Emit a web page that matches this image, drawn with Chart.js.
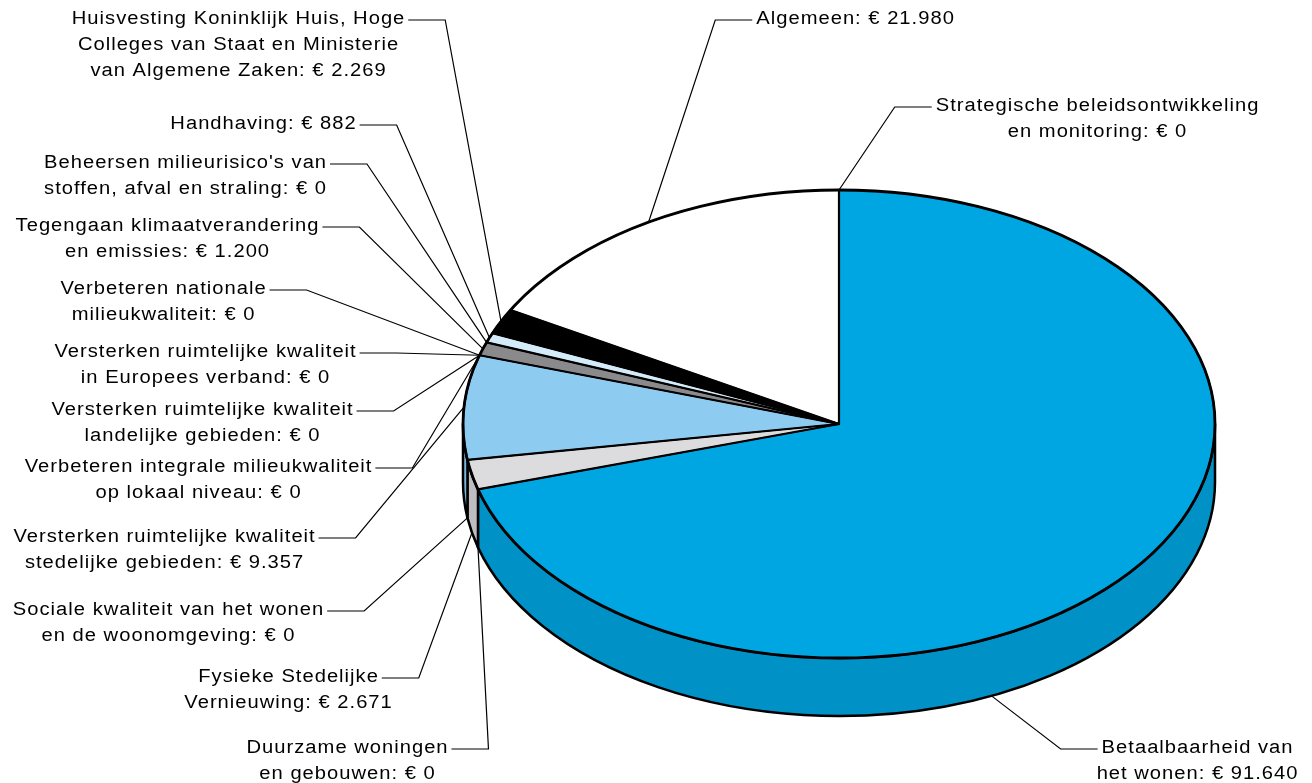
<!DOCTYPE html>
<html>
<head>
<meta charset="utf-8">
<script src="https://cdn.jsdelivr.net/npm/chart.js@4.4.1/dist/chart.umd.min.js"></script>
<style>
  html, body { margin: 0; padding: 0; background: #ffffff; }
  #wrap { width: 1312px; height: 783px; position: relative; }
</style>
</head>
<body>
<div id="wrap"><canvas id="c"></canvas></div>
<script>
// ---- data ----
const categories = [
  'Betaalbaarheid van\nhet wonen',
  'Duurzame woningen\nen gebouwen',
  'Fysieke Stedelijke\nVernieuwing',
  'Sociale kwaliteit van het wonen\nen de woonomgeving',
  'Versterken ruimtelijke kwaliteit\nstedelijke gebieden',
  'Verbeteren integrale milieukwaliteit\nop lokaal niveau',
  'Versterken ruimtelijke kwaliteit\nlandelijke gebieden',
  'Versterken ruimtelijke kwaliteit\nin Europees verband',
  'Verbeteren nationale\nmilieukwaliteit',
  'Tegengaan klimaatverandering\nen emissies',
  "Beheersen milieurisico's van\nstoffen, afval en straling",
  'Handhaving',
  'Huisvesting Koninklijk Huis, Hoge\nColleges van Staat en Ministerie\nvan Algemene Zaken',
  'Algemeen',
  'Strategische beleidsontwikkeling\nen monitoring'
];
const values = [91640, 0, 2671, 0, 9357, 0, 0, 0, 0, 1200, 0, 882, 2269, 21980, 0];

// ---- styles ----
const topColors = ['#00A6E2', '#FFFFFF', '#DCDCDE', '#FFFFFF', '#8ECBF0', '#FFFFFF', '#FFFFFF', '#FFFFFF',
                   '#FFFFFF', '#8A8A8C', '#FFFFFF', '#D4ECFA', '#000000', '#FFFFFF', '#FFFFFF'];
const sideColors = ['#0092C7', '#E0E0E0', '#BEBEC0', '#E0E0E0', '#7DB5D8', '#E0E0E0', '#E0E0E0', '#E0E0E0',
                    '#E0E0E0', '#747476', '#E0E0E0', '#B8D4E4', '#000000', '#E0E0E0', '#E0E0E0'];

// ---- label layout (block centre x, first line y, side of leader, anchor fraction) ----
const labelLayout = [
  { cx: 1197, y: 748, side: 'R', frac: 0.615 },
  { cx: 347, y: 748, side: 'L' },
  { cx: 288, y: 677, side: 'L' },
  { cx: 168, y: 610, side: 'L' },
  { cx: 164, y: 537, side: 'L' },
  { cx: 198, y: 467, side: 'L' },
  { cx: 202, y: 410, side: 'L' },
  { cx: 205, y: 352, side: 'L' },
  { cx: 163, y: 289, side: 'L' },
  { cx: 167, y: 226, side: 'L' },
  { cx: 185, y: 163, side: 'L' },
  { cx: 263, y: 124, side: 'L' },
  { cx: 238, y: 19, side: 'L' },
  { cx: 855, y: 19, side: 'R' },
  { cx: 1097, y: 106, side: 'R' }
];

const TILT = 0.6223;
const DEPTH = 58;
const LINE_H = 26;
const FONT = '18px "Liberation Sans", Arial, sans-serif';
const TEXT_STRETCH = 1.12;

function fmt(v) {
  return String(v).replace(/\B(?=(\d{3})+(?!\d))/g, '.');
}

function geom(chart) {
  const arcs = chart.getDatasetMeta(0).data;
  const a0 = arcs[0];
  const rx = a0.outerRadius;
  return { arcs, cx: a0.x, cy: a0.y, rx, ry: rx * TILT };
}

const pie3d = {
  id: 'pie3d',
  beforeDatasetsDraw(chart) {
    const ctx = chart.ctx;
    const { arcs, cx, cy, rx, ry } = geom(chart);
    ctx.save();
    ctx.lineWidth = 2.5;
    ctx.strokeStyle = '#000';
    ctx.lineJoin = 'round';
    arcs.forEach((arc, i) => {
      const s = arc.startAngle, e = arc.endAngle;
      if (e - s <= 0) return;
      for (let k = -1; k <= 1; k++) {
        const lo = Math.max(s, 2 * Math.PI * k);
        const hi = Math.min(e, 2 * Math.PI * k + Math.PI);
        if (hi > lo) {
          ctx.beginPath();
          ctx.ellipse(cx, cy, rx, ry, 0, lo, hi);
          ctx.ellipse(cx, cy + DEPTH, rx, ry, 0, hi, lo, true);
          ctx.closePath();
          ctx.fillStyle = sideColors[i];
          ctx.fill();
          ctx.stroke();
        }
      }
    });
    ctx.restore();
    ctx.save();
    ctx.translate(cx, cy);
    ctx.scale(1, TILT);
    ctx.translate(-cx, -cy);
  },
  afterDatasetsDraw(chart) {
    const ctx = chart.ctx;
    ctx.restore();
    const { arcs, cx, cy, rx, ry } = geom(chart);
    ctx.save();
    ctx.strokeStyle = '#000';
    ctx.lineWidth = 2.2;
    ctx.lineCap = 'round';
    arcs.forEach((arc) => {
      if (arc.endAngle - arc.startAngle <= 0) return;
      ctx.beginPath();
      ctx.moveTo(cx, cy);
      ctx.lineTo(cx + rx * Math.cos(arc.startAngle), cy + ry * Math.sin(arc.startAngle));
      ctx.stroke();
    });
    ctx.lineWidth = 2.8;
    ctx.beginPath();
    ctx.ellipse(cx, cy, rx, ry, 0, 0, Math.PI * 2);
    ctx.stroke();

    // labels + leader lines
    ctx.font = FONT;
    if ('letterSpacing' in ctx) ctx.letterSpacing = '0.9px';
    ctx.textAlign = 'center';
    ctx.textBaseline = 'middle';
    arcs.forEach((arc, i) => {
      const lay = labelLayout[i];
      const lines = categories[i].split('\n');
      lines[lines.length - 1] += ': \u20AC ' + fmt(values[i]);
      ctx.fillStyle = '#000';
      lines.forEach((t, j) => {
        ctx.save();
        ctx.translate(lay.cx, lay.y + j * LINE_H);
        ctx.scale(TEXT_STRETCH, 1);
        ctx.fillText(t, 0.5, 0);
        ctx.restore();
      });
      const w = (ctx.measureText(lines[0]).width - 1) * TEXT_STRETCH;
      const frac = lay.frac === undefined ? 0.5 : lay.frac;
      const ang = arc.startAngle + (arc.endAngle - arc.startAngle) * frac;
      let ax = cx + rx * Math.cos(ang);
      let ay = cy + ry * Math.sin(ang);
      if (Math.sin(ang) > 0.0001) ay += DEPTH;
      let sx, ex;
      if (lay.side === 'L') { sx = lay.cx + w / 2 + 4; ex = sx + 37; }
      else { sx = lay.cx - w / 2 - 4; ex = sx - 37; }
      ctx.beginPath();
      ctx.lineWidth = 1.2;
      ctx.lineCap = 'butt';
      ctx.moveTo(sx, lay.y + 1);
      ctx.lineTo(ex, lay.y + 1);
      ctx.lineTo(ax, ay);
      ctx.stroke();
    });
    ctx.restore();
  }
};

new Chart(document.getElementById('c'), {
  type: 'pie',
  data: {
    labels: categories,
    datasets: [{
      data: values,
      backgroundColor: topColors,
      borderColor: '#000',
      borderWidth: 2,
      radius: 376,
      clip: false
    }]
  },
  options: {
    responsive: true,
    maintainAspectRatio: false,
    animation: false,
    events: [],
    layout: { padding: { left: 366, top: 65, right: 0, bottom: 0 } },
    plugins: { legend: { display: false }, tooltip: { enabled: false } }
  },
  plugins: [pie3d]
});
</script>
</body>
</html>
